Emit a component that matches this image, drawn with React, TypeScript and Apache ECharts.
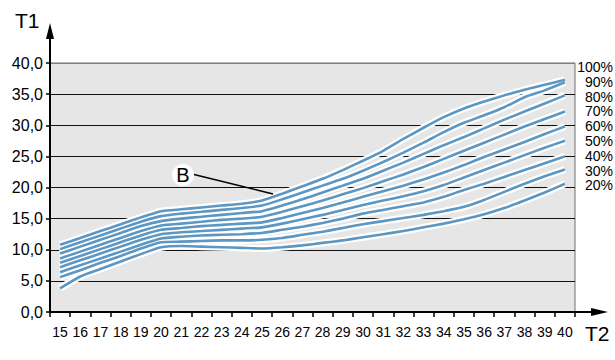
import React, { useEffect, useRef } from "react";
import * as echarts from "echarts";

const categories = ["15","16","17","18","19","20","21","22","23","24","25","26","27","28","29","30","31","32","33","34","35","36","37","38","39","40"];

const yTickLabels = ["0,0","5,0","10,0","15,0","20,0","25,0","30,0","35,0","40,0"];

const percentLabels = ["100%","90%","80%","70%","60%","50%","40%","30%","20%"];

const c20 = [3.8,5.7,6.9,8.1,9.3,10.4,10.6,10.5,10.4,10.3,10.2,10.4,10.7,11.1,11.5,12.0,12.5,13.0,13.6,14.2,14.9,15.7,16.7,17.9,19.2,20.6];
const c30 = [5.6,6.7,7.9,9.0,10.2,11.2,11.3,11.4,11.5,11.5,11.6,11.9,12.4,12.9,13.5,14.1,14.6,15.1,15.6,16.2,16.9,18.0,19.3,20.6,21.8,22.9];
const c40 = [6.4,7.5,8.6,9.7,10.8,11.8,12.1,12.3,12.4,12.5,12.7,13.2,13.7,14.3,15.0,15.8,16.4,17.0,17.6,18.5,19.6,20.6,21.7,22.8,23.9,25.0];
const c50 = [7.2,8.3,9.4,10.5,11.6,12.5,12.8,13.0,13.2,13.4,13.6,14.2,14.9,15.6,16.4,17.2,17.9,18.6,19.4,20.4,21.6,22.8,24.0,25.2,26.4,27.5];
const c60 = [7.9,9.0,10.1,11.2,12.3,13.2,13.5,13.8,14.0,14.2,14.4,15.1,15.9,16.7,17.6,18.5,19.4,20.3,21.3,22.4,23.6,24.9,26.1,27.3,28.6,29.8];
const c70 = [8.6,9.7,10.8,11.9,13.0,13.9,14.2,14.5,14.8,15.0,15.3,16.1,17.0,17.9,18.9,19.9,21.0,22.1,23.3,24.6,25.9,27.2,28.5,29.8,31.0,32.2];
const c80 = [9.4,10.5,11.6,12.7,13.8,14.6,15.0,15.3,15.6,15.9,16.2,17.1,18.1,19.2,20.3,21.4,22.7,24.0,25.4,26.8,28.1,29.5,30.9,32.2,33.5,34.8];
const c90 = [10.1,11.2,12.3,13.4,14.5,15.4,15.8,16.1,16.4,16.7,17.1,18.1,19.2,20.3,21.4,22.7,24.1,25.6,27.2,28.9,30.4,31.6,32.9,34.5,35.6,36.9];
const c100 = [10.8,11.9,13.0,14.1,15.2,16.2,16.5,16.8,17.1,17.4,17.9,19.0,20.2,21.4,22.8,24.3,25.9,27.8,29.6,31.3,32.7,33.8,34.8,35.7,36.5,37.3];

const curves = [c20, c30, c40, c50, c60, c70, c80, c90, c100];

const BLUE = "#5b97c2";
const FONT = "'Liberation Sans', Arial, sans-serif";
const NARROW = "'Liberation Sans Narrow', 'Arial Narrow', 'Liberation Sans', Arial, sans-serif";

export default function App() {
  const ref = useRef<HTMLDivElement>(null);
  useEffect(() => {
    if (!ref.current) return;
    const chart = echarts.init(ref.current, null, { renderer: "svg" });
    const halos = curves.map((d) => ({
      type: "line",
      data: d,
      smooth: 0.2,
      symbol: "none",
      z: 3,
      silent: true,
      lineStyle: { color: "#ffffff", width: 7 },
    }));
    const lines = curves.map((d, i) => ({
      type: "line",
      name: percentLabels[percentLabels.length - 1 - i],
      data: d,
      smooth: 0.2,
      symbol: "none",
      z: 4,
      silent: true,
      lineStyle: { color: BLUE, width: 2.6 },
    }));
    const pct = percentLabels.map((t, i) => ({
      type: "text",
      x: 613,
      y: 67 + i * 14.8,
      style: {
        text: t,
        fill: "#000",
        font: `14px ${FONT}`,
        lineHeight: 13,
        textAlign: "right",
        textVerticalAlign: "middle",
      },
    }));
    chart.setOption({
      animation: false,
      grid: {
        left: 50,
        right: 40,
        top: 63,
        bottom: 48,
        show: true,
        backgroundColor: "#e6e6e6",
        borderColor: "#707070",
        borderWidth: 1,
      },
      xAxis: {
        type: "category",
        data: categories,
        boundaryGap: true,
        axisLine: { show: true, lineStyle: { color: "#000", width: 2 } },
        axisTick: { show: true, inside: false, length: 5, lineStyle: { color: "#000", width: 1.5 } },
        axisLabel: { color: "#000", fontFamily: NARROW, fontSize: 14, margin: 13, interval: 0 },
        splitLine: { show: false },
      },
      yAxis: {
        type: "value",
        min: 0,
        max: 40,
        interval: 5,
        axisLine: { show: true, lineStyle: { color: "#000", width: 2 } },
        axisTick: { show: true, length: 4, lineStyle: { color: "#000", width: 1.5 } },
        axisLabel: {
          color: "#000",
          fontFamily: FONT,
          fontSize: 16,
          margin: 7,
          formatter: (v: number) => yTickLabels[Math.round(v / 5)],
        },
        splitLine: {
          show: true,
          lineStyle: { color: ["#000", "#111", "#111", "#111", "#111", "#111", "#111", "#111", "#808080"], width: 1 },
        },
      },
      series: [...halos, ...lines],
      graphic: [
        { type: "line", shape: { x1: 50, y1: 64, x2: 50, y2: 34 }, style: { stroke: "#000", lineWidth: 2 }, z: 10 },
        { type: "polygon", shape: { points: [[50, 23], [46, 39], [54, 39]] }, style: { fill: "#000" }, z: 10 },
        { type: "line", shape: { x1: 574, y1: 312, x2: 596, y2: 312 }, style: { stroke: "#000", lineWidth: 2 }, z: 10 },
        { type: "polygon", shape: { points: [[608, 312], [591, 308], [591, 316]] }, style: { fill: "#000" }, z: 10 },
        { type: "text", left: 15, top: 10, style: { text: "T1", fill: "#000", font: `21px ${FONT}` } },
        { type: "text", left: 585, top: 323, style: { text: "T2", fill: "#000", font: `21px ${FONT}` } },
        { type: "line", shape: { x1: 192, y1: 174, x2: 273, y2: 194 }, style: { stroke: "#000", lineWidth: 1.5 }, z: 10 },
        { type: "circle", shape: { cx: 183, cy: 175, r: 11 }, style: { fill: "#ffffff" }, z: 10 },
        { type: "text", x: 183, y: 175, style: { text: "B", fill: "#000", font: `20px ${FONT}`, textAlign: "center", textVerticalAlign: "middle" }, z: 11 },
        ...pct,
      ],
    });
    return () => chart.dispose();
  }, []);
  return <div ref={ref} style={{ width: 615, height: 360, position: "absolute", left: 0, top: 0 }} />;
}
